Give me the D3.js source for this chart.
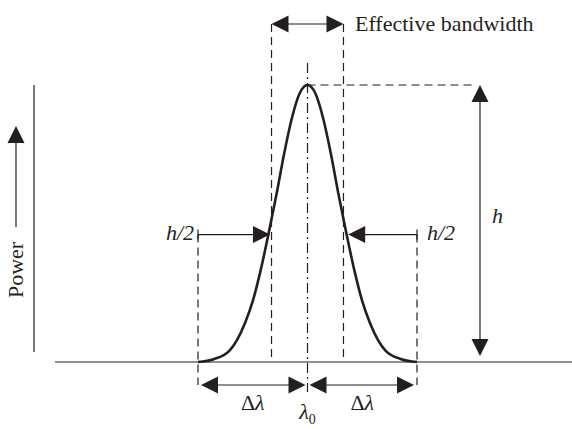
<!DOCTYPE html>
<html>
    <head>
        <meta charset="utf-8">
        <script src="https://cdn.jsdelivr.net/npm/d3@7"></script>
        <style>
            body { margin: 0; background: #fff; }
            text { font-family: "Liberation Serif", "DejaVu Serif", serif; font-size: 22px; fill: #231f20; }
        </style>
        <script>
            // offset from centre wavelength (in curve widths) and relative power
            var offsets = [-3.5, -3, -2.5, -2.25, -2, -1.75, -1.5, -1.25, -1, -0.75, -0.5, -0.25, 0,
                           0.25, 0.5, 0.75, 1, 1.25, 1.5, 1.75, 2, 2.25, 2.5, 3, 3.5];
            var power   = [0, 0.01, 0.04, 0.08, 0.14, 0.22, 0.33, 0.46, 0.6, 0.75, 0.88, 0.97, 1,
                           0.97, 0.88, 0.75, 0.6, 0.46, 0.33, 0.22, 0.14, 0.08, 0.04, 0.01, 0];

            var bandEdges = [-1.15, 1.15];   // effective bandwidth
            var footEdges = [-3.5, 3.5];     // delta lambda
            var halfLevel = 0.46;            // h/2 marker level

            var labels = { band: "Effective bandwidth", half: "h/2", height: "h", power: "Power" };

            function makeSVG() {
                var ink = "#231f20";
                var svg = d3.select("#fig");

                var xSc = d3.scaleLinear().domain([-3.5, 3.5]).range([198, 417]);
                var ySc = d3.scaleLinear().domain([0, 1]).range([362, 85]);

                var x0 = xSc(0), yBase = ySc(0), yTop = ySc(1), yHalf = ySc(halfLevel);

                // arrowhead: tip at (x,y), pointing in direction (dx,dy)
                function head(x, y, dx, dy) {
                    var L = 17, W = 8.5, px = -dy, py = dx;
                    var bx = x - dx * L, by = y - dy * L;
                    svg.append("path")
                       .attr("d", "M" + x + "," + y + "L" + (bx + px * W) + "," + (by + py * W) +
                                  "L" + (bx - px * W) + "," + (by - py * W) + "Z")
                       .attr("fill", ink);
                }
                function line(x1, y1, x2, y2, dash, w) {
                    return svg.append("line")
                              .attr("x1", x1).attr("y1", y1).attr("x2", x2).attr("y2", y2)
                              .attr("stroke", ink).attr("stroke-width", w || 1.2)
                              .attr("stroke-dasharray", dash || null);
                }

                // Axes
                line(55, yBase, 572, yBase);
                line(34, 85, 34, 352);

                // Power arrow + label
                line(16, 140, 16, 227);
                head(16, 126, 0, -1);
                svg.append("text")
                   .attr("transform", "translate(23,270) rotate(-90)")
                   .attr("text-anchor", "middle")
                   .text(labels.power);

                // Dashed guide lines
                bandEdges.forEach(function (e) { line(xSc(e), 24, xSc(e), yBase, "8,5"); });
                footEdges.forEach(function (e) { line(xSc(e), yHalf, xSc(e), 385, "8,5"); });
                line(x0, yTop, 472, yTop, "8,5");
                line(x0, 63, x0, 392, "10,4,2,4");

                // Curve
                var lnMkr = d3.line()
                              .x(function (d, i) { return xSc(offsets[i]); })
                              .y(function (d) { return ySc(d); })
                              .curve(d3.curveMonotoneX);
                svg.append("path")
                   .attr("d", lnMkr(power))
                   .attr("fill", "none")
                   .attr("stroke", ink)
                   .attr("stroke-width", 2.6);

                // Effective bandwidth arrow
                var bl = xSc(bandEdges[0]), br = xSc(bandEdges[1]);
                line(bl + 10, 24, br - 10, 24);
                head(bl, 24, -1, 0);
                head(br, 24, 1, 0);
                svg.append("text").attr("x", 355).attr("y", 31).text(labels.band);

                // h/2 arrows
                var fl = xSc(footEdges[0]), fr = xSc(footEdges[1]);
                var cl = xSc(-1.2), cr = xSc(1.3);
                line(fl, yHalf, cl - 10, yHalf);
                line(fl, yHalf - 5, fl, yHalf + 5);
                head(cl, yHalf, 1, 0);
                line(cr + 10, yHalf, fr, yHalf);
                line(fr, yHalf - 5, fr, yHalf + 5);
                head(cr, yHalf, -1, 0);

                svg.append("text").attr("x", fl - 4).attr("y", yHalf + 5)
                   .attr("text-anchor", "end").style("font-style", "italic").text(labels.half);
                svg.append("text").attr("x", fr + 10).attr("y", yHalf + 5)
                   .style("font-style", "italic").text(labels.half);

                // h arrow
                var hx = 480;
                line(hx, yTop + 10, hx, yBase - 16);
                head(hx, yTop, 0, -1);
                head(hx, yBase - 6, 0, 1);
                svg.append("text").attr("x", 492).attr("y", 223)
                   .style("font-style", "italic").text(labels.height);

                // Delta lambda arrows
                var ya = 385;
                line(fl + 8, ya, x0 - 8, ya);
                head(fl + 3, ya, -1, 0);
                head(x0 - 2, ya, 1, 0);
                line(x0 + 8, ya, fr - 8, ya);
                head(x0 + 2, ya, -1, 0);
                head(fr - 3, ya, 1, 0);

                [(fl + x0) / 2, (x0 + fr) / 2].forEach(function (cx) {
                    var t = svg.append("text").attr("x", cx).attr("y", 410).attr("text-anchor", "middle");
                    t.append("tspan").text("\u0394");
                    t.append("tspan").style("font-style", "italic").text("\u03bb");
                });

                var lt = svg.append("text").attr("x", x0).attr("y", 419).attr("text-anchor", "middle");
                lt.append("tspan").style("font-style", "italic").text("\u03bb");
                lt.append("tspan").attr("dy", 5).style("font-size", "14px").text("0");
            }
        </script>
    </head>
    <body onload="makeSVG()">

        <svg id="fig" width="572" height="429"></svg>

    </body>
</html>
